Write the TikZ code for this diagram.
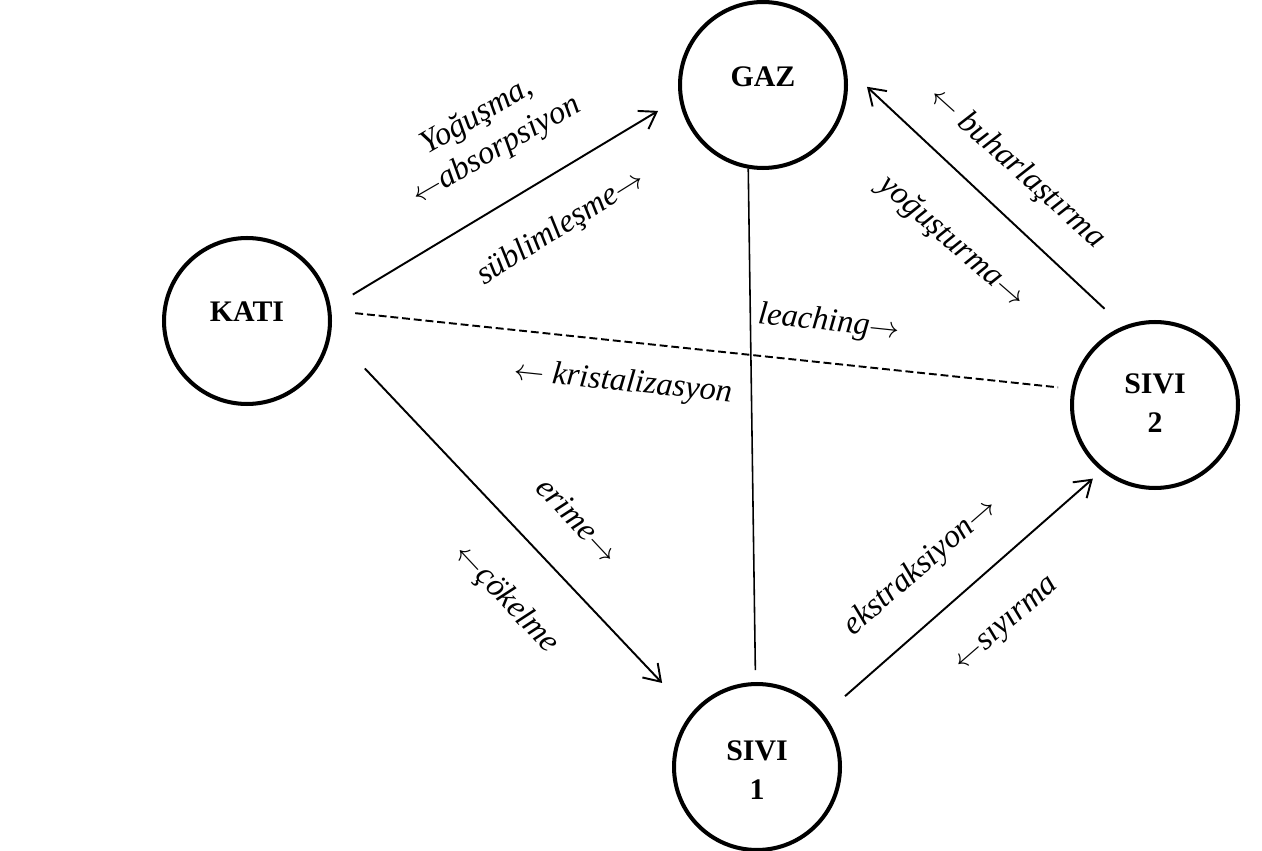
\documentclass[tikz,border=0pt]{standalone}
\usepackage{fontspec}
\setmainfont{Liberation Serif}
\usetikzlibrary{arrows.meta}

\newcommand{\ra}{$\rightarrow$}
\newcommand{\la}{$\leftarrow$}

\begin{document}
\begin{tikzpicture}[x=0.02cm, y=-0.02cm,
  phase/.style={circle, draw, line width=2.3pt, minimum size=3.32cm, inner sep=0pt},
  phasetext/.style={font=\fontsize{17}{22.5}\selectfont\bfseries, align=center, inner sep=0pt},
  flowline/.style={line width=1.1pt},
  flowarrow/.style={flowline, -{Straight Barb[length=9pt, width=12pt]}},
  flowlabel/.style={font=\fontsize{18.5}{22}\selectfont\itshape, align=center, inner sep=1pt}
]
\useasboundingbox (0,0) rectangle (1262,851);

% the four phases
\node[phase] (kati) at (247,321) {};
\node[phase] (gaz) at (763,85) {};
\node[phase] (sivione) at (757,767) {};
\node[phase] (sivitwo) at (1155,405) {};

\node[phasetext] (katitext) at (247,312) {KATI};
\node[phasetext] (gaztext) at (763,77) {GAZ};
\node[phasetext] (sivionetext) at (757,770) {SIVI\\1};
\node[phasetext] (sivitwotext) at (1155,403) {SIVI\\2};

% transfers between phases
\draw[flowarrow, shorten <=0.51cm, shorten >=0.49cm] (kati.9.7) -- (gaz.189.8);
\draw[flowarrow, shorten <=0.51cm, shorten >=0.57cm] (sivitwo.112.2) -- (gaz.12.5);
\draw[flowline, dash pattern=on 4.5pt off 2.2pt, shorten <=0.48cm, shorten >=0.27cm]
  (kati.7.3) -- (sivitwo.169.2);
\draw[flowarrow, shorten <=0.98cm, shorten >=0.84cm] (kati.352.2) -- (sivione.141.6);
\draw[line width=0.9pt, shorten >=0.24cm] (gaz.260) -- (sivione.91.4);
\draw[flowarrow, shorten <=0.56cm, shorten >=0.23cm] (sivione.38.5) -- (sivitwo.231.9);

% process names
\foreach \px/\py/\ang/\txt [count=\i] in {%
  487/134/30/{Yoğuşma,\\\la absorpsiyon},%
  561/228/32/{süblimleşme\ra},%
  1017/168/-42/{\la\ buharlaştırma},%
  952/242/-41/{yoğuşturma\ra},%
  829/323/-6/{leaching\ra},%
  623/383/-6/{\la\ kristalizasyon},%
  578/520/-47/{erime\ra},%
  506/599/-47/{\la çökelme},%
  921/567/41/{ekstraksiyon\ra},%
  1008/626/41/{\la sıyırma}%
} {
  \node[flowlabel, rotate=\ang] (lbl\i) at (\px,\py) {\txt};
}
\end{tikzpicture}
\end{document}
